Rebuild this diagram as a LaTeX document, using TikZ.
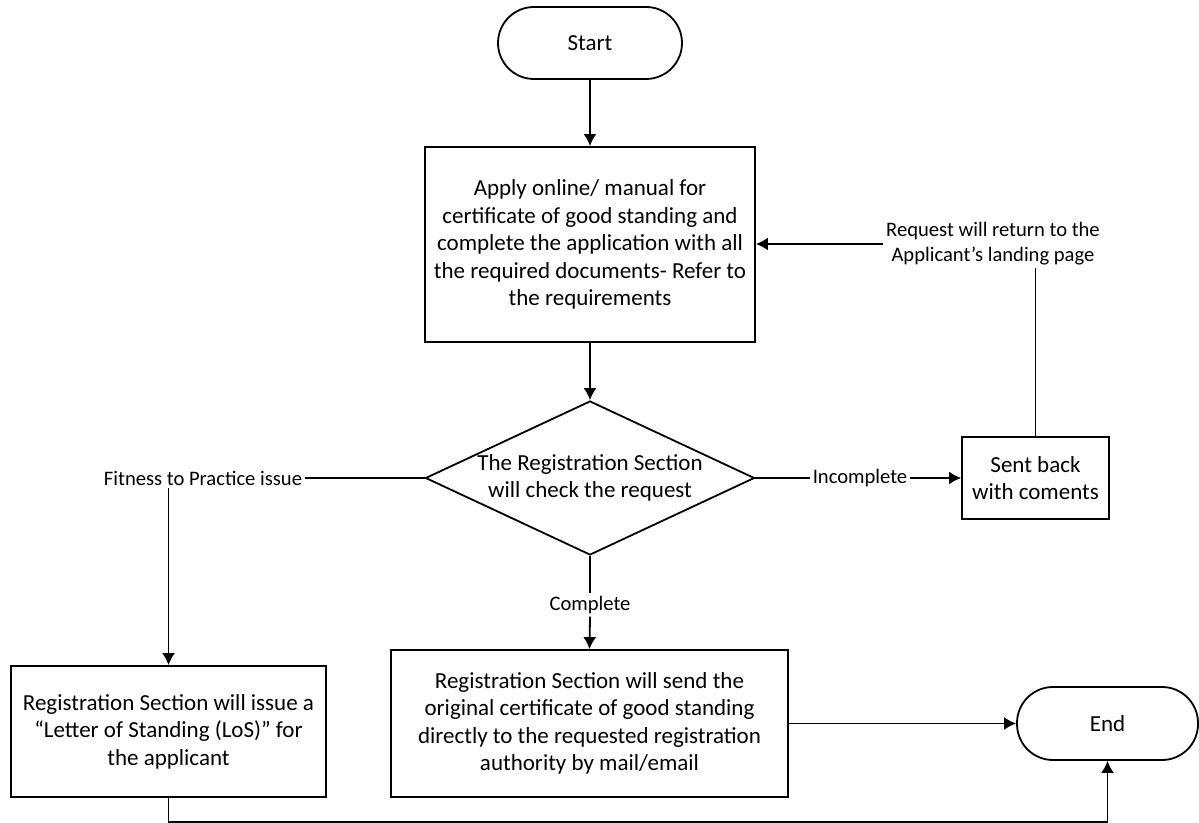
\documentclass[tikz,border=0pt]{standalone}
\usepackage{fontspec}
\setmainfont{Carlito}
\usetikzlibrary{shapes.geometric,arrows.meta}
\tikzset{
	terminal/.style={draw, rectangle, rounded corners=18pt, font=\fontsize{11.5}{13.75}\selectfont, align=center},
	block/.style={draw, rectangle, inner sep=1pt, font=\fontsize{11.5}{13.75}\selectfont, align=center},
	decision/.style={draw, diamond, aspect=2.14, inner sep=-4pt, minimum width=164.5pt, minimum height=77pt, font=\fontsize{11.5}{13.75}\selectfont, align=center},
	lbl/.style={inner sep=1pt, font=\fontsize{10.3}{12.5}\selectfont, align=center},
	flow/.style={-{Latex[length=6pt,width=6.5pt]}}
}
\begin{document}
\begin{tikzpicture}[x=0.5pt, y=-0.5pt, line width=0.9pt]
		\useasboundingbox (0,0) rectangle (1199,823);
		\node[terminal, minimum width=92pt, minimum height=36pt] (start) at (590,43) {Start};
		\node[block, minimum width=165pt, minimum height=97.5pt] (apply) at (590,244.5) {Apply online/ manual for\\certificate of good standing and\\complete the application with all\\the required documents- Refer to\\the requirements};
		\node[decision] (check) at (590,478) {The Registration Section\\will check the request};
		\node[block, minimum width=73.5pt, minimum height=41pt] (sent) at (1035.5,478) {Sent back\\with coments};
		\node[block, minimum width=157.5pt, minimum height=65.5pt] (los) at (168.5,731.5) {Registration Section will issue a\\``Letter of Standing (LoS)'' for\\the applicant};
		\node[block, minimum width=198.5pt, minimum height=73.5pt] (send) at (589.5,723.5) {Registration Section will send the\\original certificate of good standing\\directly to the requested registration\\authority by mail/email};
		\node[terminal, minimum width=90.5pt, minimum height=36.5pt] (end) at (1107.5,723.5) {End};
		
		\node[lbl] (fit) at (203,478) {Fitness to Practice issue};
		\node[lbl] (inc) at (860,478) {Incomplete};
		\node[lbl] (comp) at (590,605) {Complete};
		\node[lbl] (ret) at (993,244) {Request will return to the\\Applicant’s landing page};
		\coordinate (bot) at (0,822);
		
		\draw[flow] (start) -- (apply);
		\draw[flow] (apply) -- (check);
		\draw (check.west) -- (fit.east); \draw[flow] (fit.south -| los.north) -- (los.north);
		\draw (check.east) -- (inc.west); \draw[flow] (inc.east) -- (sent.west);
		\draw (check.south) -- (comp.north); \draw[flow] (comp.south) -- (send.north);
		\draw (sent.north) -- (ret.south -| sent.north); \draw[flow] (ret.west) -- (ret.west -| apply.east);
		\draw[flow] (send.east) -- (end.west);
		\draw[flow] (los.south) -- (los.south |- bot) -| (end.south);
\end{tikzpicture}
\end{document}
